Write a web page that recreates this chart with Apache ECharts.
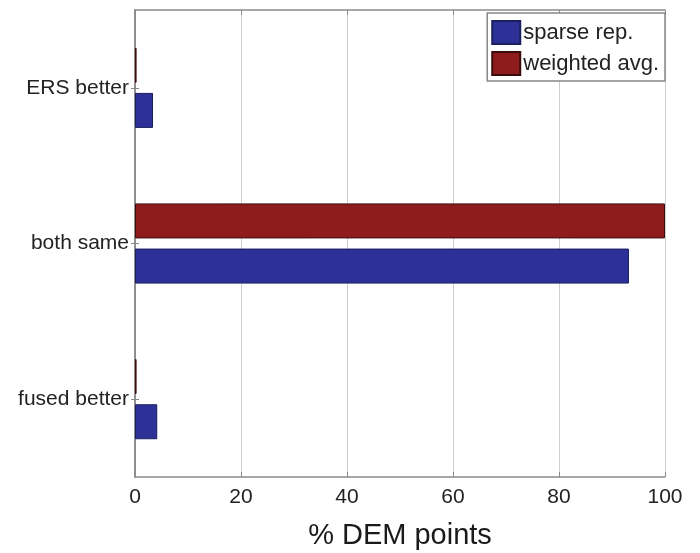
<!DOCTYPE html>
<html>
<head>
<meta charset="utf-8">
<script src="https://cdn.jsdelivr.net/npm/echarts@6/dist/echarts.min.js"></script>
<style>
  html, body { margin: 0; padding: 0; background: #fff; }
  #chart { width: 700px; height: 553px; }
</style>
</head>
<body>
<div id="chart"></div>
<script>
// Categories listed bottom-to-top along the vertical axis
const categories = ['fused better', 'both same', 'ERS better'];
const sparseRep = [4.2, 93.2, 3.4];
const weightedAvg = [0.3, 100, 0.3];
const xTicks = [0, 20, 40, 60, 80, 100];

const FONT = '"Liberation Sans", Arial, Helvetica, sans-serif';
const AXIS_COLOR = '#8a8a8a';

const chart = echarts.init(document.getElementById('chart'), null, { renderer: 'canvas' });

chart.setOption({
  animation: false,
  backgroundColor: '#fff',
  textStyle: { fontFamily: FONT },
  grid: { left: 135, right: 35, top: 10, bottom: 76, containLabel: false, outerBoundsMode: 'none' },
  legend: {
    orient: 'vertical',
    right: 35,
    top: 13,
    padding: [7, 6, 5, 4],
    itemWidth: 28,
    itemHeight: 23,
    itemGap: 6,
    backgroundColor: '#fff',
    borderColor: '#888',
    borderWidth: 1.5,
    borderRadius: 0,
    icon: 'rect',
    textStyle: { fontFamily: FONT, fontSize: 22, color: '#222', padding: [0, 0, 0, -2] },
    data: ['sparse rep.', 'weighted avg.']
  },
  xAxis: [
    {
      type: 'value',
      position: 'bottom',
      min: xTicks[0],
      max: xTicks[xTicks.length - 1],
      interval: 20,
      name: '% DEM points',
      nameLocation: 'middle',
      nameGap: 44,
      nameTextStyle: { fontFamily: FONT, fontSize: 29, color: '#1a1a1a' },
      axisLine: { show: true, lineStyle: { color: AXIS_COLOR, width: 1.5 } },
      axisTick: { show: true, inside: true, length: 5, lineStyle: { color: AXIS_COLOR } },
      axisLabel: { margin: 10, fontFamily: FONT, fontSize: 21, color: '#222' },
      splitLine: { show: true, lineStyle: { color: '#cfcfcf', width: 1 } }
    },
    {
      type: 'value',
      position: 'top',
      min: xTicks[0],
      max: xTicks[xTicks.length - 1],
      interval: 20,
      axisLine: { show: true, lineStyle: { color: AXIS_COLOR, width: 1.5 } },
      axisTick: { show: true, inside: true, length: 5, lineStyle: { color: AXIS_COLOR } },
      axisLabel: { show: false },
      splitLine: { show: false }
    }
  ],
  yAxis: [
    {
      type: 'category',
      position: 'left',
      data: categories,
      axisLine: { show: true, lineStyle: { color: AXIS_COLOR, width: 1.5 } },
      axisTick: { show: true, alignWithLabel: true, inside: true, length: 4, lineStyle: { color: AXIS_COLOR } },
      axisLabel: { margin: 6, fontFamily: FONT, fontSize: 21, color: '#222' },
      splitLine: { show: false }
    },
    {
      type: 'category',
      position: 'right',
      data: categories,
      axisLine: { show: true, lineStyle: { color: AXIS_COLOR, width: 1.5 } },
      axisTick: { show: true, alignWithLabel: true, inside: true, length: 4, lineStyle: { color: AXIS_COLOR } },
      axisLabel: { show: false },
      splitLine: { show: false }
    }
  ],
  // weighted avg. is listed first so it sits above sparse rep. within each group
  series: [
    {
      name: 'weighted avg.',
      type: 'bar',
      xAxisIndex: 0,
      yAxisIndex: 0,
      data: weightedAvg,
      barWidth: 35,
      barGap: '29%',
      itemStyle: { color: '#8f1c1c', borderColor: '#3a0c0c', borderWidth: 1 }
    },
    {
      name: 'sparse rep.',
      type: 'bar',
      xAxisIndex: 0,
      yAxisIndex: 0,
      data: sparseRep,
      barWidth: 35,
      barGap: '29%',
      itemStyle: { color: '#2c3097', borderColor: '#1c1f5e', borderWidth: 1 }
    }
  ]
});
</script>
</body>
</html>
